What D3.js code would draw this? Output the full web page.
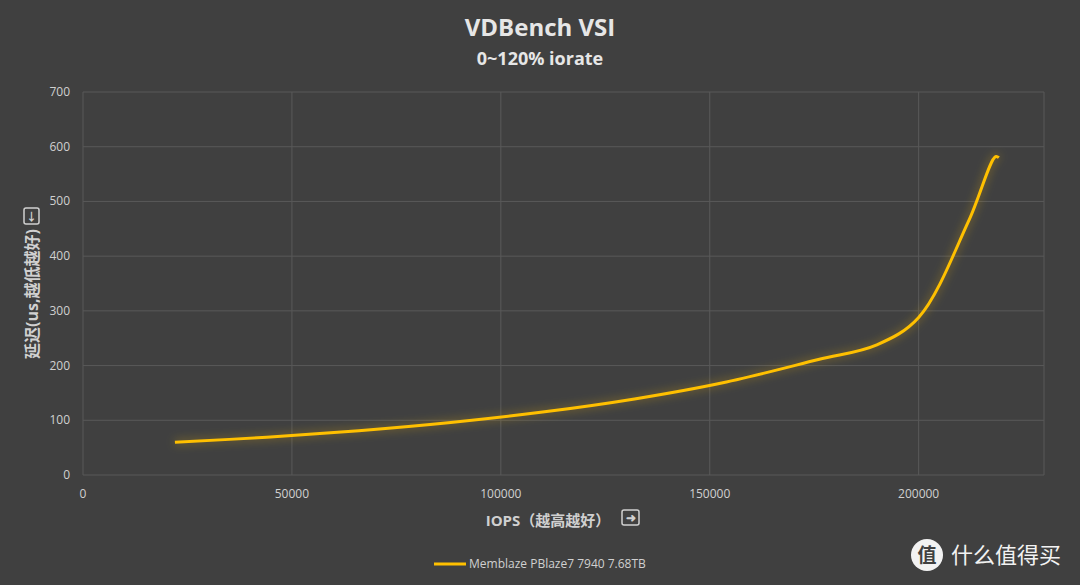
<!DOCTYPE html>
<html lang="en">
  <head>
    <meta charset="UTF-8" />
    <title>VDBench VSI</title>
    <script src="https://d3js.org/d3.v7.min.js"></script>
    <style>
      body { margin: 0; background: #404040; }
      text { font-family: "Open Sans", "Noto Sans CJK SC", sans-serif; }
    </style>
  </head>
  <body>
    <svg width="1080" height="585"></svg>
    <script>
      // data
      const seriesName = "Memblaze PBlaze7 7940 7.68TB";
      const iops = [22000, 44000, 66000, 88000, 110000, 132000, 154000, 176000, 190000, 200000, 212000, 218400, 219200];
      const latency = [60, 69, 81, 96, 115, 139, 170, 211, 238, 288, 465, 582, 580];
      const xTicks = [0, 50000, 100000, 150000, 200000];
      const yTicks = [0, 100, 200, 300, 400, 500, 600, 700];

      const svg = d3.select("svg");
      svg.append("rect").attr("width", 1080).attr("height", 585).attr("fill", "#404040");

      const x = d3.scaleLinear().domain([0, 230000]).range([83, 1044]);
      const y = d3.scaleLinear().domain([0, 700]).range([475, 92]);

      // glow filter
      const defs = svg.append("defs");
      const f = defs.append("filter").attr("id", "glow")
        .attr("x", "-10%").attr("y", "-20%").attr("width", "120%").attr("height", "140%");
      f.append("feGaussianBlur").attr("in", "SourceGraphic").attr("stdDeviation", 5).attr("result", "b");
      f.append("feComponentTransfer").attr("in", "b").attr("result", "b2")
        .append("feFuncA").attr("type", "linear").attr("slope", 0.5);
      const m = f.append("feMerge");
      m.append("feMergeNode").attr("in", "b2");
      m.append("feMergeNode").attr("in", "SourceGraphic");

      // grid
      svg.append("g").selectAll("line").data(yTicks).join("line")
        .attr("x1", x(0)).attr("x2", x(230000))
        .attr("y1", d => y(d)).attr("y2", d => y(d))
        .attr("stroke", "#595959").attr("stroke-width", 1);
      svg.append("g").selectAll("line").data(xTicks.concat([230000])).join("line")
        .attr("x1", d => x(d)).attr("x2", d => x(d))
        .attr("y1", y(0)).attr("y2", y(700))
        .attr("stroke", "#595959").attr("stroke-width", 1);

      // tick labels
      svg.append("g").selectAll("text").data(yTicks).join("text")
        .attr("x", 70).attr("y", d => y(d) + 4)
        .attr("text-anchor", "end").attr("font-size", 12).attr("fill", "#d0d0d0")
        .text(d => d);
      svg.append("g").selectAll("text").data(xTicks).join("text")
        .attr("x", d => x(d)).attr("y", 498)
        .attr("text-anchor", "middle").attr("font-size", 12).attr("fill", "#d0d0d0")
        .text(d => d);

      // line
      const line = d3.line()
        .x((d, i) => x(iops[i])).y((d, i) => y(latency[i]))
        .curve(d3.curveCatmullRom.alpha(0.5));
      svg.append("path").datum(latency)
        .attr("d", line).attr("fill", "none")
        .attr("stroke", "#ffc000").attr("stroke-width", 3)
        .attr("stroke-linejoin", "round")
        .attr("filter", "url(#glow)");

      // titles
      svg.append("text").attr("x", 540).attr("y", 36).attr("text-anchor", "middle")
        .attr("font-size", 24).attr("font-weight", "bold").attr("fill", "#e6e6e6")
        .text("VDBench VSI");
      svg.append("text").attr("x", 540).attr("y", 65).attr("text-anchor", "middle")
        .attr("font-size", 18).attr("font-weight", "bold").attr("fill", "#e6e6e6")
        .text("0~120% iorate");

      // x axis title
      svg.append("text").attr("x", 548).attr("y", 526).attr("text-anchor", "middle")
        .attr("font-size", 15).attr("font-weight", "bold").attr("fill", "#d0d0d0")
        .text("IOPS（越高越好）");
      const bx = svg.append("g").attr("transform", "translate(622,510)");
      bx.append("rect").attr("width", 17).attr("height", 15).attr("rx", 2)
        .attr("fill", "none").attr("stroke", "#d0d0d0").attr("stroke-width", 1.5);
      bx.append("text").attr("x", 8.5).attr("y", 12).attr("text-anchor", "middle")
        .attr("font-size", 12).attr("font-weight", "bold").attr("fill", "#d0d0d0").text("➜");

      // y axis title
      const yt = svg.append("g").attr("transform", "translate(38,294) rotate(-90)");
      yt.append("text").attr("x", 0).attr("y", 0).attr("text-anchor", "middle")
        .attr("font-size", 16).attr("font-weight", "bold").attr("fill", "#d0d0d0")
        .text("延迟(us,越低越好)");
      const by = svg.append("g").attr("transform", "translate(24,208)");
      by.append("rect").attr("width", 15).attr("height", 16).attr("rx", 2)
        .attr("fill", "none").attr("stroke", "#d0d0d0").attr("stroke-width", 1.5);
      by.append("text").attr("x", 7.5).attr("y", 12.5).attr("text-anchor", "middle")
        .attr("font-size", 11).attr("font-weight", "bold").attr("fill", "#d0d0d0").text("↓");

      // legend
      svg.append("line").attr("x1", 434).attr("x2", 466).attr("y1", 564).attr("y2", 564)
        .attr("stroke", "#ffc000").attr("stroke-width", 3);
      svg.append("text").attr("x", 469).attr("y", 568).attr("font-size", 12)
        .attr("fill", "#d0d0d0").text(seriesName);

      // watermark
      svg.append("circle").attr("cx", 927).attr("cy", 555).attr("r", 16).attr("fill", "#f2f2f2");
      svg.append("text").attr("x", 927).attr("y", 562).attr("text-anchor", "middle")
        .attr("font-size", 19).attr("font-weight", "bold").attr("fill", "#404040").text("值");
      svg.append("text").attr("x", 951).attr("y", 563).attr("font-size", 22)
        .attr("fill", "#f2f2f2").attr("font-family", "Noto Sans CJK SC").text("什么值得买");
    </script>
  </body>
</html>
